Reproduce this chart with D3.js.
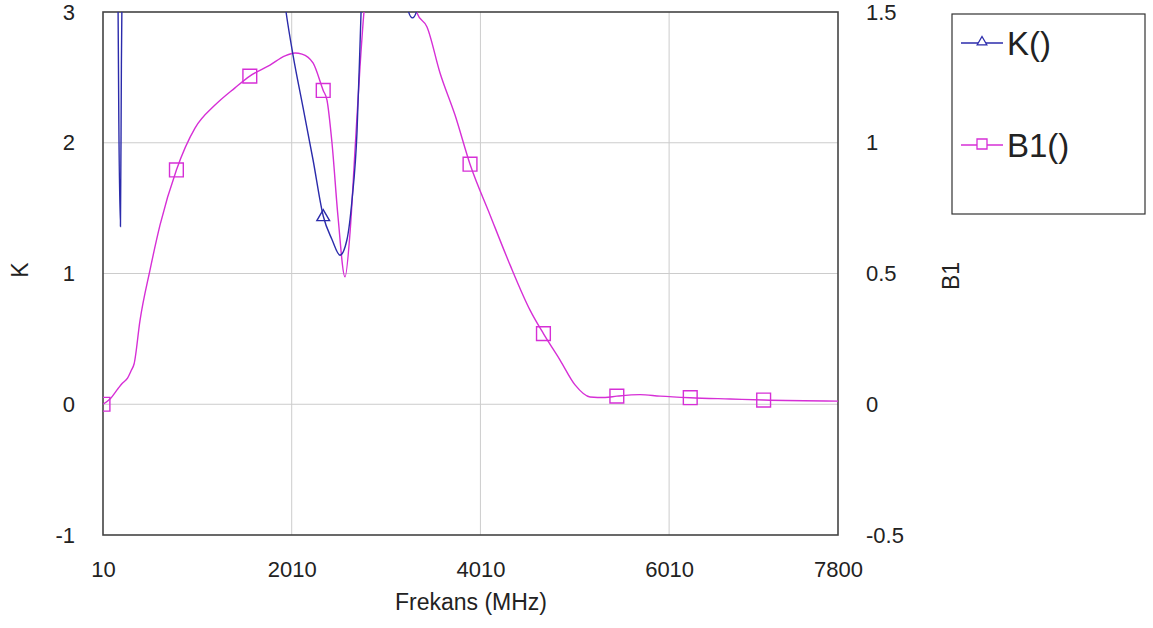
<!DOCTYPE html>
<html>
<head>
<meta charset="utf-8">
<script src="https://cdn.jsdelivr.net/npm/d3@7"></script>
<style>
  body { margin: 0; background: #fff; }
  text { font-family: Arial, "Liberation Sans", sans-serif; fill: #222; }
  .grid line { stroke: #cccccc; stroke-width: 1; }
</style>
</head>
<body>
<svg id="chart" width="1153" height="628"></svg>
<script>
// x ticks and axis ticks
var xTicks = [10, 2010, 4010, 6010, 7800];
var kTicks = [3, 2, 1, 0, -1];
var b1Ticks = [1.5, 1, 0.5, 0, -0.5];
// frequencies where the markers sit
var markerFreq = [10, 788, 1566, 2344, 3122, 3900, 4678, 5456, 6234, 7012];

// K() series (values above 3 are off the chart)
var kFreq = [10, 150, 168, 178, 195, 205, 215, 240, 788, 1566, 1880, 1950, 2024, 2130, 2236, 2344,
  2437, 2522, 2596, 2649, 2702, 2734, 2745, 2780, 2900, 3122, 3230, 3290, 3350, 3500, 3900, 4678,
  5456, 6234, 7012, 7800];
var kVals = [9, 6, 3.2, 2.15, 1.36, 2.6, 3.4, 6, 9, 8, 3.4, 3.0, 2.67, 2.27, 1.87, 1.44,
  1.26, 1.14, 1.26, 1.56, 2.08, 2.75, 3.0, 4, 6, 5, 3.05, 2.955, 3.05, 5, 8, 9,
  9, 9, 9, 9];

// B1() series (values above 1.5 are off the chart)
var b1Freq = [10, 84, 170, 215, 270, 310, 340, 402, 508, 614, 788, 985, 1197, 1409, 1566, 1780,
  1939, 2045, 2119, 2236, 2344, 2384, 2437, 2501, 2575, 2628, 2681, 2734, 2776, 2900, 3122, 3250,
  3338, 3444, 3582, 3741, 3900, 4112, 4324, 4536, 4678, 4854, 5013, 5172, 5331, 5456, 5702, 5914,
  6234, 6656, 7012, 7800];
var b1Vals = [0.0, 0.02, 0.06, 0.08, 0.10, 0.13, 0.155, 0.32, 0.513, 0.685, 0.896, 1.056, 1.144, 1.21, 1.255, 1.297,
  1.332, 1.343, 1.339, 1.305, 1.2, 1.163, 0.999, 0.716, 0.487, 0.655, 0.972, 1.29, 1.5, 1.75, 1.85, 1.65,
  1.496, 1.443, 1.267, 1.106, 0.918, 0.724, 0.533, 0.36, 0.27, 0.169, 0.074, 0.028, 0.026, 0.031, 0.037, 0.031,
  0.025, 0.02, 0.016, 0.012];

var kColor = "#2b2bab";
var b1Color = "#d62fd6";

var svg = d3.select("#chart");
var plotLeft = 103, plotRight = 838, plotTop = 12, plotBottom = 535;

var x = d3.scaleLinear().domain([10, 7800]).range([plotLeft, plotRight]);
var yK = d3.scaleLinear().domain([-1, 3]).range([plotBottom, plotTop]);
var yB = d3.scaleLinear().domain([-0.5, 1.5]).range([plotBottom, plotTop]);

svg.append("defs").append("clipPath").attr("id", "plotClip")
  .append("rect")
  .attr("x", plotLeft).attr("y", plotTop)
  .attr("width", plotRight - plotLeft).attr("height", plotBottom - plotTop);

// grid
var grid = svg.append("g").attr("class", "grid");
grid.selectAll("line.v")
  .data(xTicks.slice(1, -1))
  .enter().append("line")
  .attr("x1", function(d) { return x(d); })
  .attr("x2", function(d) { return x(d); })
  .attr("y1", plotTop).attr("y2", plotBottom);
grid.selectAll("line.h")
  .data(kTicks.slice(1, -1))
  .enter().append("line")
  .attr("x1", plotLeft).attr("x2", plotRight)
  .attr("y1", function(d) { return yK(d); })
  .attr("y2", function(d) { return yK(d); });

// plain hyphen for negatives, like the original
function plainNum(d) { return String(d); }

// axes (labels only, the frame is drawn separately)
var xAxis = svg.append("g")
  .attr("transform", "translate(0," + plotBottom + ")")
  .call(d3.axisBottom(x).tickValues(xTicks).tickSize(0).tickPadding(26).tickFormat(plainNum));
var kAxis = svg.append("g")
  .attr("transform", "translate(" + plotLeft + ",0)")
  .call(d3.axisLeft(yK).tickValues(kTicks).tickSize(0).tickPadding(28).tickFormat(plainNum));
var bAxis = svg.append("g")
  .attr("transform", "translate(" + plotRight + ",0)")
  .call(d3.axisRight(yB).tickValues(b1Ticks).tickSize(0).tickPadding(28).tickFormat(plainNum));

[xAxis, kAxis, bAxis].forEach(function(a) {
  a.select(".domain").remove();
  a.selectAll("text")
    .style("font-size", "22px")
    .attr("fill", "#222")
    .style("font-family", "Arial, 'Liberation Sans', sans-serif");
});

// frame
svg.append("rect")
  .attr("x", plotLeft).attr("y", plotTop)
  .attr("width", plotRight - plotLeft).attr("height", plotBottom - plotTop)
  .attr("fill", "none")
  .attr("stroke", "#444")
  .attr("stroke-width", 1.6);

// titles
svg.append("text")
  .attr("x", 471).attr("y", 610)
  .attr("text-anchor", "middle")
  .style("font-size", "23px")
  .text("Frekans (MHz)");
svg.append("text")
  .attr("transform", "translate(28,270) rotate(-90)")
  .attr("text-anchor", "middle")
  .style("font-size", "23px")
  .text("K");
svg.append("text")
  .attr("transform", "translate(959,276) rotate(-90)")
  .attr("text-anchor", "middle")
  .style("font-size", "23px")
  .text("B1");

// series
var kData = kFreq.map(function(f, i) { return {f: f, v: kVals[i]}; });
var b1Data = b1Freq.map(function(f, i) { return {f: f, v: b1Vals[i]}; });

var plot = svg.append("g").attr("clip-path", "url(#plotClip)");

var kLine = d3.line()
  .x(function(d) { return x(d.f); })
  .y(function(d) { return yK(d.v); })
  .curve(d3.curveMonotoneX);
var b1Line = d3.line()
  .x(function(d) { return x(d.f); })
  .y(function(d) { return yB(d.v); })
  .curve(d3.curveMonotoneX);

plot.append("path")
  .datum(b1Data)
  .attr("d", b1Line)
  .attr("fill", "none")
  .attr("stroke", b1Color)
  .attr("stroke-width", 1.4);

plot.append("path")
  .datum(kData)
  .attr("d", kLine)
  .attr("fill", "none")
  .attr("stroke", kColor)
  .attr("stroke-width", 1.4);

var triangle = d3.symbol().type(d3.symbolTriangle).size(70);
var square = d3.symbol().type(d3.symbolSquare).size(190);

plot.selectAll("path.b1m")
  .data(b1Data.filter(function(d) { return markerFreq.indexOf(d.f) > -1; }))
  .enter().append("path")
  .attr("class", "b1m")
  .attr("d", square)
  .attr("transform", function(d) { return "translate(" + x(d.f) + "," + yB(d.v) + ")"; })
  .attr("fill", "none")
  .attr("stroke", b1Color)
  .attr("stroke-width", 1.4);

plot.selectAll("path.km")
  .data(kData.filter(function(d) { return markerFreq.indexOf(d.f) > -1; }))
  .enter().append("path")
  .attr("class", "km")
  .attr("d", triangle)
  .attr("transform", function(d) { return "translate(" + x(d.f) + "," + (yK(d.v) + 1) + ")"; })
  .attr("fill", "none")
  .attr("stroke", kColor)
  .attr("stroke-width", 1.4);

// legend
var legend = svg.append("g");
legend.append("rect")
  .attr("x", 952).attr("y", 14)
  .attr("width", 193).attr("height", 200)
  .attr("fill", "#fff")
  .attr("stroke", "#333")
  .attr("stroke-width", 1.2);

var legendItems = [
  {name: "K()", color: kColor, sym: d3.symbol().type(d3.symbolTriangle).size(40), y: 43},
  {name: "B1()", color: b1Color, sym: d3.symbol().type(d3.symbolSquare).size(100), y: 145}
];
var li = legend.selectAll("g.item")
  .data(legendItems)
  .enter().append("g")
  .attr("class", "item");
li.append("line")
  .attr("x1", 961).attr("x2", 1003)
  .attr("y1", function(d) { return d.y; })
  .attr("y2", function(d) { return d.y; })
  .attr("stroke", function(d) { return d.color; })
  .attr("stroke-width", 1.3);
li.append("path")
  .attr("d", function(d) { return d.sym(); })
  .attr("transform", function(d) { return "translate(982," + (d.y - 1) + ")"; })
  .attr("fill", "#fff")
  .attr("stroke", function(d) { return d.color; })
  .attr("stroke-width", 1.3);
li.append("text")
  .attr("x", 1007)
  .attr("y", function(d) { return d.y + 12; })
  .style("font-size", "33px")
  .attr("fill", "#111")
  .text(function(d) { return d.name; });
</script>
</body>
</html>
